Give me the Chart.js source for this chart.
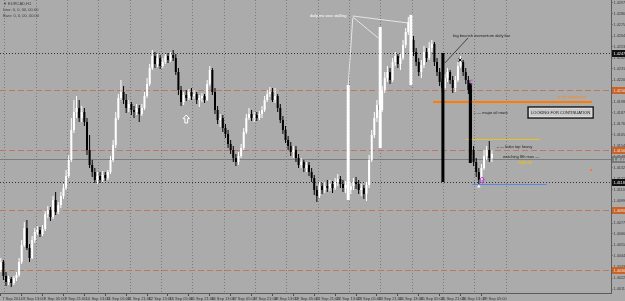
<!DOCTYPE html>
<html>
<head>
<meta charset="utf-8">
<title>EURCAD,H1</title>
<script src="https://cdn.jsdelivr.net/npm/chart.js@4.4.1/dist/chart.umd.min.js"></script>
<style>
  html, body { margin: 0; padding: 0; background: #ababab; }
  #box { position: relative; width: 625px; height: 301px; }
</style>
</head>
<body>
<div id="box"><canvas id="priceChart"></canvas></div>
<script>
// EURCAD H1 screenshot, redrawn as 2-hour candles
// x axis is "trading hours since 7 Sep 21:00", one candle every 2 hours

const opens = [1.4030,1.4038,1.4024,1.4018,1.4021,1.4017,1.4022,1.4025,1.4038,1.4055,
  1.4072,1.4052,1.4042,1.4060,1.4068,1.4070,1.4066,1.4071,1.4086,1.4090,
  1.4083,1.4100,1.4088,1.4095,1.4104,1.4112,1.4124,1.4140,1.4170,1.4188,
  1.4192,1.4182,1.4188,1.4178,1.4150,1.4135,1.4128,1.4120,1.4124,1.4120,
  1.4125,1.4122,1.4128,1.4140,1.4155,1.4182,1.4202,1.4208,1.4200,1.4192,
  1.4196,1.4190,1.4188,1.4192,1.4186,1.4192,1.4204,1.4216,1.4232,1.4244,
  1.4236,1.4242,1.4234,1.4238,1.4244,1.4240,1.4245,1.4242,1.4228,1.4210,
  1.4198,1.4205,1.4202,1.4208,1.4204,1.4206,1.4200,1.4202,1.4204,1.4200,
  1.4216,1.4230,1.4208,1.4190,1.4180,1.4182,1.4172,1.4166,1.4156,1.4150,
  1.4142,1.4138,1.4144,1.4152,1.4168,1.4182,1.4186,1.4182,1.4185,1.4182,
  1.4186,1.4190,1.4200,1.4206,1.4208,1.4200,1.4204,1.4192,1.4180,1.4170,
  1.4160,1.4154,1.4148,1.4150,1.4142,1.4135,1.4138,1.4132,1.4135,1.4128,
  1.4122,1.4110,1.4104,1.4114,1.4110,1.4114,1.4112,1.4116,1.4112,1.4118,
  1.4121,1.4116,1.4112,1.4115,1.4110,1.4114,1.4118,1.4116,1.4110,1.4112,
  1.4106,1.4115,1.4140,1.4165,1.4182,1.4195,1.4190,1.4210,1.4222,1.4228,
  1.4220,1.4238,1.4244,1.4236,1.4242,1.4255,1.4268,1.4278,1.4260,1.4248,
  1.4238,1.4228,1.4235,1.4248,1.4242,1.4252,1.4256,1.4238,1.4228,1.4218,
  1.4212,1.4222,1.4228,1.4220,1.4212,1.4220,1.4234,1.4238,1.4228,1.4220,
  1.4210,1.4150,1.4138,1.4128,1.4120,1.4132,1.4144,1.4150,1.4142];

const highs = [1.4042,1.4040,1.4028,1.4024,1.4023,1.4024,1.4028,1.4042,1.4060,1.4078,
  1.4080,1.4056,1.4064,1.4072,1.4074,1.4073,1.4075,1.4089,1.4094,1.4093,
  1.4104,1.4108,1.4098,1.4108,1.4116,1.4130,1.4145,1.4182,1.4200,1.4204,
  1.4200,1.4194,1.4192,1.4182,1.4165,1.4140,1.4132,1.4128,1.4128,1.4129,
  1.4128,1.4130,1.4144,1.4160,1.4188,1.4206,1.4220,1.4214,1.4206,1.4200,
  1.4198,1.4194,1.4196,1.4195,1.4196,1.4208,1.4222,1.4236,1.4250,1.4248,
  1.4246,1.4245,1.4242,1.4246,1.4247,1.4248,1.4250,1.4246,1.4232,1.4214,
  1.4208,1.4210,1.4211,1.4212,1.4210,1.4208,1.4205,1.4207,1.4206,1.4220,
  1.4234,1.4232,1.4212,1.4194,1.4186,1.4185,1.4176,1.4170,1.4160,1.4154,
  1.4146,1.4148,1.4156,1.4172,1.4186,1.4192,1.4190,1.4188,1.4188,1.4189,
  1.4194,1.4204,1.4210,1.4213,1.4212,1.4212,1.4206,1.4196,1.4184,1.4174,
  1.4164,1.4158,1.4154,1.4154,1.4146,1.4142,1.4140,1.4138,1.4138,1.4132,
  1.4125,1.4114,1.4118,1.4117,1.4118,1.4120,1.4120,1.4119,1.4122,1.4126,
  1.4124,1.4120,1.4119,1.4118,1.4118,1.4122,1.4123,1.4120,1.4116,1.4115,
  1.4118,1.4145,1.4170,1.4188,1.4200,1.4202,1.4214,1.4228,1.4234,1.4232,
  1.4242,1.4248,1.4246,1.4246,1.4260,1.4272,1.4283,1.4283,1.4264,1.4252,
  1.4242,1.4240,1.4254,1.4252,1.4258,1.4260,1.4258,1.4242,1.4232,1.4222,
  1.4226,1.4232,1.4230,1.4224,1.4224,1.4238,1.4244,1.4240,1.4232,1.4224,
  1.4214,1.4154,1.4142,1.4132,1.4136,1.4150,1.4154,1.4159,1.4150];

const lows = [1.4028,1.4020,1.4014,1.4015,1.4013,1.4015,1.4019,1.4023,1.4036,1.4053,
  1.4050,1.4038,1.4041,1.4057,1.4065,1.4063,1.4064,1.4069,1.4082,1.4079,
  1.4081,1.4085,1.4086,1.4092,1.4101,1.4110,1.4122,1.4138,1.4167,1.4182,
  1.4178,1.4178,1.4174,1.4145,1.4132,1.4123,1.4117,1.4116,1.4117,1.4118,
  1.4119,1.4120,1.4126,1.4138,1.4152,1.4180,1.4200,1.4196,1.4187,1.4188,
  1.4185,1.4182,1.4185,1.4178,1.4184,1.4190,1.4202,1.4214,1.4230,1.4232,
  1.4233,1.4231,1.4232,1.4236,1.4237,1.4238,1.4239,1.4225,1.4205,1.4194,
  1.4195,1.4199,1.4200,1.4200,1.4201,1.4196,1.4193,1.4198,1.4197,1.4199,
  1.4214,1.4205,1.4186,1.4176,1.4173,1.4168,1.4162,1.4152,1.4146,1.4138,
  1.4134,1.4135,1.4142,1.4150,1.4166,1.4180,1.4179,1.4178,1.4179,1.4180,
  1.4182,1.4188,1.4198,1.4203,1.4198,1.4197,1.4188,1.4177,1.4166,1.4157,
  1.4150,1.4144,1.4142,1.4138,1.4132,1.4132,1.4128,1.4128,1.4124,1.4118,
  1.4105,1.4098,1.4102,1.4106,1.4107,1.4108,1.4109,1.4107,1.4110,1.4114,
  1.4112,1.4108,1.4107,1.4105,1.4106,1.4110,1.4111,1.4106,1.4104,1.4101,
  1.4099,1.4112,1.4138,1.4162,1.4178,1.4185,1.4188,1.4207,1.4218,1.4216,
  1.4218,1.4234,1.4232,1.4230,1.4240,1.4252,1.4265,1.4256,1.4244,1.4234,
  1.4224,1.4222,1.4232,1.4238,1.4240,1.4248,1.4234,1.4224,1.4214,1.4208,
  1.4210,1.4218,1.4216,1.4207,1.4208,1.4218,1.4232,1.4224,1.4216,1.4206,
  1.4145,1.4134,1.4123,1.4115,1.4116,1.4130,1.4140,1.4138,1.4138];

const closes = [1.4038,1.4024,1.4018,1.4021,1.4017,1.4022,1.4025,1.4038,1.4055,1.4072,
  1.4052,1.4042,1.4060,1.4068,1.4070,1.4066,1.4071,1.4086,1.4090,1.4083,
  1.4100,1.4088,1.4095,1.4104,1.4112,1.4124,1.4140,1.4170,1.4188,1.4192,
  1.4182,1.4188,1.4178,1.4150,1.4135,1.4128,1.4120,1.4124,1.4120,1.4125,
  1.4122,1.4128,1.4140,1.4155,1.4182,1.4202,1.4208,1.4200,1.4192,1.4196,
  1.4190,1.4188,1.4192,1.4186,1.4192,1.4204,1.4216,1.4232,1.4244,1.4236,
  1.4242,1.4234,1.4238,1.4244,1.4240,1.4245,1.4242,1.4228,1.4210,1.4198,
  1.4205,1.4202,1.4208,1.4204,1.4206,1.4200,1.4202,1.4204,1.4200,1.4216,
  1.4230,1.4208,1.4190,1.4180,1.4182,1.4172,1.4166,1.4156,1.4150,1.4142,
  1.4138,1.4144,1.4152,1.4168,1.4182,1.4186,1.4182,1.4185,1.4182,1.4186,
  1.4190,1.4200,1.4206,1.4208,1.4200,1.4204,1.4192,1.4180,1.4170,1.4160,
  1.4154,1.4148,1.4150,1.4142,1.4135,1.4138,1.4132,1.4135,1.4128,1.4122,
  1.4110,1.4104,1.4114,1.4110,1.4114,1.4112,1.4116,1.4112,1.4118,1.4121,
  1.4116,1.4112,1.4115,1.4110,1.4114,1.4118,1.4116,1.4110,1.4112,1.4106,
  1.4115,1.4140,1.4165,1.4182,1.4195,1.4190,1.4210,1.4222,1.4228,1.4220,
  1.4238,1.4244,1.4236,1.4242,1.4255,1.4268,1.4278,1.4260,1.4248,1.4238,
  1.4228,1.4235,1.4248,1.4242,1.4252,1.4256,1.4238,1.4228,1.4218,1.4212,
  1.4222,1.4228,1.4220,1.4212,1.4220,1.4234,1.4238,1.4228,1.4220,1.4210,
  1.4150,1.4138,1.4128,1.4120,1.4132,1.4144,1.4150,1.4142,1.4146];

// time axis labels (one every 16 bars of H1) and day separators
const labelHours = [0,16,32,48,64,80,96,112,128,144,160,176,192,208,224,240,256,272,288,304,320,336,352,368];
const xTickLabels = ['7 Sep 2014','8 Sep 13:00','9 Sep 05:00','9 Sep 21:00','10 Sep 13:00','11 Sep 05:00',
  '11 Sep 21:00','12 Sep 13:00','15 Sep 05:00','15 Sep 21:00','16 Sep 13:00','17 Sep 05:00',
  '17 Sep 21:00','18 Sep 13:00','19 Sep 05:00','21 Sep 21:00','22 Sep 13:00','23 Sep 05:00',
  '23 Sep 21:00','24 Sep 13:00','25 Sep 05:00','25 Sep 21:00','26 Sep 13:00','29 Sep 05:00'];
const gridHours = [3,27,51,75,99,123,147,171,195,219,243,267,291,315,339,363,387];

const yTickValues = [1.4297,1.4286,1.4275,1.4264,1.4253,1.4242,1.4231,1.4220,1.4209,1.4198,
  1.4187,1.4176,1.4165,1.4154,1.4143,1.4132,1.4121,1.4110,1.4099,1.4088,
  1.4077,1.4066,1.4055,1.4044,1.4033,1.4022,1.4011];

// drawn objects on the chart
const orangeLevels = [1.4210, 1.4150, 1.4090, 1.4030];
const blackLevels = [1.4247, 1.4118];
const grayLevels = [1.4141];

const orangeSegment = [331, 452.7, 1.4198];   // from hour, to hour, price
const yellowSegment = [356, 413, 1.4161];
const blueSegment = [361, 418, 1.4116];

const whiteDailyBars = [[266, 1.4215, 1.4100], [290.5, 1.4273, 1.4152], [314, 1.4285, 1.4215]];
const blackDailyBars = [[338.5, 1.4247, 1.4118], [359.5, 1.4217, 1.4137]];

const pointerLines = [
  [269.5, 1.4282, 266, 1.4215],
  [269.5, 1.4283, 289, 1.4262],
  [269.5, 1.4284, 312, 1.4277],
  [357.7, 1.4262, 340, 1.4237]
];

const noteTexts = ['daily mo was stalling', 'big bearish momentum daily bar', '\u2190\u2014 major oil news',
  'price stagnation', '\u2190\u2014 boko top heavy', 'watching 8th mas \u2014', 'RANGE'];
const noteHours = [236.5, 346.5, 361.6, 426.7, 379.2, 384.5, 396];
const notePrices = [1.4284, 1.4264, 1.4187, 1.4203, 1.4153, 1.4143, 1.4137];

const boxText = 'LOOKING FOR CONTINUATION';
const boxRange = [403.7, 453.5, 1.4193, 1.4182];

const candleHours = opens.map((_, i) => i * 2);

const noteColors = ['#ffffff', '#1e1e1e', '#1e1e1e', '#ff8a10', '#1e1e1e', '#1e1e1e', '#f2c200'];
const upColor = '#ffffff';
const downColor = '#000000';
const candleColors = closes.map((c, i) => c >= opens[i] ? upColor : downColor);
const smallFont = '4px "Liberation Sans", Arial, sans-serif';

function upArrow(ctx, cx, cy, s, color) {
  ctx.beginPath();
  ctx.moveTo(cx, cy - s);
  ctx.lineTo(cx + s * 0.8, cy - s * 0.1);
  ctx.lineTo(cx + s * 0.35, cy - s * 0.1);
  ctx.lineTo(cx + s * 0.35, cy + s);
  ctx.lineTo(cx - s * 0.35, cy + s);
  ctx.lineTo(cx - s * 0.35, cy - s * 0.1);
  ctx.lineTo(cx - s * 0.8, cy - s * 0.1);
  ctx.closePath();
  ctx.strokeStyle = color;
  ctx.lineWidth = 1;
  ctx.stroke();
}

function seg(ctx, x1, y1, x2, y2) {
  ctx.beginPath();
  ctx.moveTo(x1, y1);
  ctx.lineTo(x2, y2);
  ctx.stroke();
}

const drawings = {
  id: 'drawings',
  beforeDatasetsDraw(chart) {
    const {ctx, chartArea: a, scales: {x, y}} = chart;
    const hline = (p, color, dash) => {
      const yy = Math.round(y.getPixelForValue(p)) + 0.5;
      ctx.strokeStyle = color;
      ctx.lineWidth = 1;
      ctx.setLineDash(dash);
      seg(ctx, a.left, yy, a.right, yy);
    };
    ctx.save();
    orangeLevels.forEach(p => hline(p, '#bc7a5c', [6, 3]));
    grayLevels.forEach(p => hline(p, '#7c7c7c', []));
    blackLevels.forEach(p => hline(p, '#303030', [1, 2]));
    ctx.restore();
  },
  afterDatasetsDraw(chart) {
    const {ctx, scales: {x, y}} = chart;
    const px = v => x.getPixelForValue(v);
    const py = v => y.getPixelForValue(v);
    ctx.save();
    ctx.setLineDash([]);

    // coloured segments
    ctx.lineWidth = 2;
    ctx.strokeStyle = '#ff7c00';
    seg(ctx, px(orangeSegment[0]), py(orangeSegment[2]), px(orangeSegment[1]), py(orangeSegment[2]));
    ctx.lineWidth = 1;
    ctx.strokeStyle = '#e6c228';
    seg(ctx, px(yellowSegment[0]), Math.round(py(yellowSegment[2])) + 0.5, px(yellowSegment[1]), Math.round(py(yellowSegment[2])) + 0.5);
    ctx.strokeStyle = '#5f84e0';
    seg(ctx, px(blueSegment[0]), Math.round(py(blueSegment[2])) + 0.5, px(blueSegment[1]), Math.round(py(blueSegment[2])) + 0.5);

    // daily bars
    ctx.lineWidth = 3;
    ctx.strokeStyle = '#ffffff';
    whiteDailyBars.forEach(([h, hi, lo]) => seg(ctx, px(h), py(hi), px(h), py(lo)));
    ctx.strokeStyle = '#000000';
    blackDailyBars.forEach(([h, hi, lo]) => seg(ctx, px(h), py(hi), px(h), py(lo)));

    // pointer lines from the notes
    ctx.lineWidth = 0.8;
    pointerLines.forEach((l, i) => {
      ctx.strokeStyle = i < 3 ? '#f4f4f4' : '#2a2a2a';
      seg(ctx, px(l[0]), py(l[1]), px(l[2]), py(l[3]));
    });

    // notes
    ctx.font = smallFont;
    ctx.textBaseline = 'middle';
    ctx.textAlign = 'left';
    noteTexts.forEach((t, i) => {
      ctx.fillStyle = noteColors[i];
      ctx.fillText(t, px(noteHours[i]), py(notePrices[i]));
    });

    // framed box
    const bx1 = px(boxRange[0]), bx2 = px(boxRange[1]);
    const by1 = py(boxRange[2]), by2 = py(boxRange[3]);
    ctx.fillStyle = '#c9c9c9';
    ctx.fillRect(bx1, by1, bx2 - bx1, by2 - by1);
    ctx.lineWidth = 1.5;
    ctx.strokeStyle = '#1c1c1c';
    ctx.strokeRect(bx1, by1, bx2 - bx1, by2 - by1);
    ctx.lineWidth = 0.6;
    ctx.strokeStyle = '#eeeeee';
    ctx.strokeRect(bx1 + 1.2, by1 + 1.2, bx2 - bx1 - 2.4, by2 - by1 - 2.4);
    ctx.fillStyle = '#151515';
    ctx.textAlign = 'center';
    ctx.fillText(boxText, (bx1 + bx2) / 2, (by1 + by2) / 2 + 0.3);

    // small marks
    upArrow(ctx, px(142), py(1.4181), 4, '#ffffff');
    upArrow(ctx, px(368.5), py(1.4120), 3, '#b040c8');
    ctx.strokeStyle = '#b040c8';
    ctx.lineWidth = 1;
    ctx.beginPath();
    ctx.arc(px(360.8), py(1.4218), 2, 0.4 * Math.PI, 1.6 * Math.PI);
    ctx.stroke();
    ctx.strokeStyle = '#111111';
    const mx = px(351.6), my = py(1.4240);
    seg(ctx, mx - 1.5, my - 1.5, mx + 1.5, my + 1.5);
    seg(ctx, mx - 1.5, my + 1.5, mx + 1.5, my - 1.5);
    ctx.fillStyle = '#ff7a20';
    ctx.fillRect(px(452) - 1, py(1.4130) - 1, 2, 2);
    ctx.fillStyle = '#ffffff';
    const tx = px(366), ty = py(1.4114);
    ctx.beginPath();
    ctx.moveTo(tx, ty - 1.5); ctx.lineTo(tx + 1.8, ty + 1.5); ctx.lineTo(tx - 1.8, ty + 1.5);
    ctx.closePath();
    ctx.fill();
    ctx.restore();
  },
  afterDraw(chart) {
    const {ctx, chartArea: a, scales: {y}} = chart;
    const tag = (p, fill, txt) => {
      const yy = Math.round(y.getPixelForValue(p));
      ctx.fillStyle = fill;
      ctx.fillRect(a.right + 1, yy - 3, chart.width - a.right - 1, 7);
      ctx.fillStyle = txt;
      ctx.fillText(p.toFixed(4), a.right + 2.5, yy + 0.5);
    };
    ctx.save();
    ctx.font = '3.8px "Liberation Sans", Arial, sans-serif';
    ctx.textAlign = 'left';
    ctx.textBaseline = 'middle';
    orangeLevels.forEach(p => tag(p, '#c8642a', '#f6e2d6'));
    grayLevels.forEach(p => tag(p, '#7a7a7a', '#e0e0e0'));
    blackLevels.forEach(p => tag(p, '#101010', '#f0f0f0'));

    // symbol header, top left
    ctx.font = smallFont;
    ctx.fillStyle = '#3c3c3c';
    ctx.fillText('\u25BC EURCAD,H1', 3, 4);
    ctx.fillText('Line: 0, 0, 00, 00.00', 3, 10);
    ctx.fillText('Bars: 0, 0, 00, 00.00', 3, 16);
    ctx.restore();
  }
};

Chart.defaults.font.family = '"Liberation Sans", Arial, sans-serif';

const ctx = document.getElementById('priceChart').getContext('2d');
const priceChart = new Chart(ctx, {
  type: 'bar',
  data: {
    datasets: [
      {
        label: 'wicks',
        data: candleHours.map((h, i) => ({x: h, y: [lows[i], highs[i]]})),
        backgroundColor: candleColors,
        barThickness: 1,
        maxBarThickness: 1,
        grouped: false,
        inflateAmount: 0,
        minBarLength: 1
      },
      {
        label: 'bodies',
        data: candleHours.map((h, i) => ({x: h, y: [opens[i], closes[i]]})),
        backgroundColor: candleColors,
        barThickness: 2,
        maxBarThickness: 2,
        grouped: false,
        inflateAmount: 0,
        minBarLength: 1
      }
    ]
  },
  options: {
    responsive: true,
    maintainAspectRatio: false,
    animation: false,
    events: [],
    layout: { padding: 0 },
    plugins: { legend: { display: false }, tooltip: { enabled: false } },
    scales: {
      x: {
        type: 'linear',
        offset: false,
        min: -0.6,
        max: 467.2,
        position: 'bottom',
        afterBuildTicks: s => { s.ticks = labelHours.map(v => ({value: v})); },
        afterFit: s => { s.height = 8; s.paddingLeft = 0; s.paddingRight = 0; },
        ticks: {
          callback: (v, i) => xTickLabels[i],
          autoSkip: false,
          maxRotation: 0,
          align: 'start',
          labelOffset: 1.5,
          padding: 0,
          color: '#333333',
          font: { size: 4 }
        },
        grid: { offset: false, drawOnChartArea: false, drawTicks: true, tickLength: 3, color: '#4e4e4e' },
        border: { display: true, color: '#5c5c5c' }
      },
      xg: {
        type: 'linear',
        offset: false,
        min: -0.6,
        max: 467.2,
        position: 'bottom',
        afterBuildTicks: s => { s.ticks = gridHours.map(v => ({value: v})); },
        afterFit: s => { s.height = 0; s.paddingLeft = 0; s.paddingRight = 0; },
        ticks: { display: false },
        grid: { offset: false, drawOnChartArea: true, drawTicks: false, color: '#7a7a7a' },
        border: { display: false, dash: [1, 2] }
      },
      y: {
        type: 'linear',
        position: 'right',
        min: 1.4007,
        max: 1.4300,
        afterBuildTicks: s => { s.ticks = yTickValues.map(v => ({value: v})); },
        afterFit: s => { s.width = 14; s.paddingTop = 0; s.paddingBottom = 0; },
        ticks: {
          callback: v => v.toFixed(4),
          padding: 1,
          color: '#3a3a3a',
          font: { size: 3.8 }
        },
        grid: { drawOnChartArea: false, drawTicks: true, tickLength: 1.5, color: '#4e4e4e' },
        border: { display: true, color: '#5c5c5c' }
      }
    }
  },
  plugins: [drawings]
});
</script>
</body>
</html>
